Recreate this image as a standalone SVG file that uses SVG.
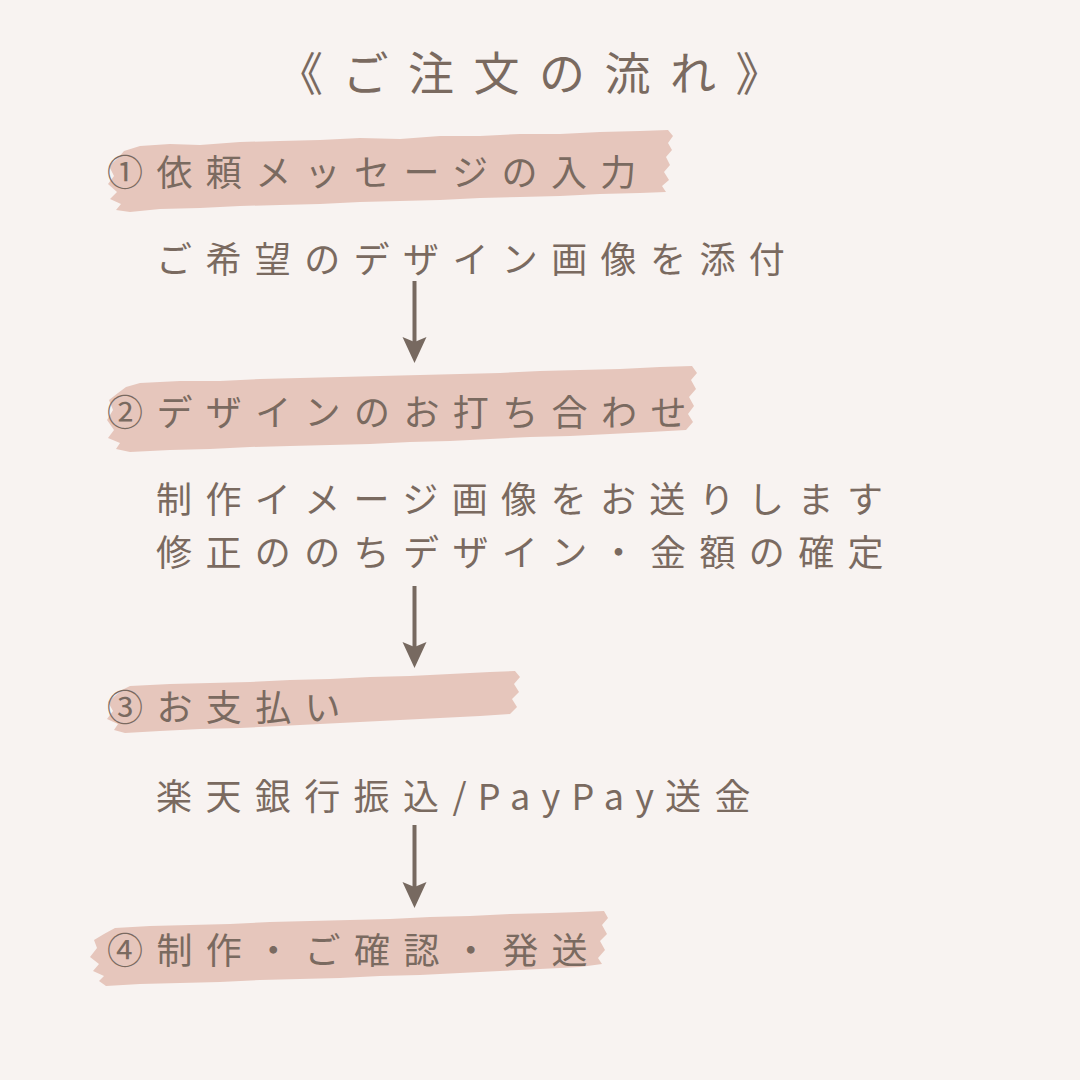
<svg xmlns="http://www.w3.org/2000/svg" width="1080" height="1080" viewBox="0 0 1080 1080">
<style>
.t{font-family:"Noto Sans CJK JP","Noto Sans",sans-serif;fill:#7a6a60;font-size:36px;letter-spacing:13.4px;}
.title{font-size:46px;letter-spacing:19.5px;}
.brush{fill:#e6c6bc;}
.conn{stroke:#776960;stroke-width:4;fill:none;}
</style>
<defs>
<marker id="ah" markerUnits="userSpaceOnUse" viewBox="0 -13 26 26" refX="8" refY="0" markerWidth="26" markerHeight="26" orient="auto">
<path d="M0,-12 L26,0 L0,12 L5,0 Z" fill="#776960"/>
</marker>
</defs>
<rect width="1080" height="1080" fill="#f8f3f1"/>
<g id="title"><text class="t title" x="277" y="90">《ご注文の流れ》</text></g>

<g id="step1">
<path class="brush" d="M140,146 L170,144 L200,145 L240,142 L280,141 L320,140 L360,138 L400,139 L440,136 L480,136 L520,134 L560,134 L600,132 L640,131 L668,130 L673,136 L668,143 L672,150 L666,157 L670,165 L664,172 L669,180 L662,186 L666,192 L640,193 L600,194 L560,196 L520,197 L480,198 L440,200 L400,201 L360,202 L320,204 L280,205 L240,206 L200,208 L160,209 L130,212 L116,210 L121,204 L110,199 L117,192 L108,184 L114,176 L109,166 L118,158 L124,151 Z"/>
<text class="t" x="107" y="186">①依頼メッセージの入力</text>
</g>
<g id="sub1"><text class="t" x="156" y="273">ご希望のデザイン画像を添付</text></g>

<g id="step2">
<path class="brush" d="M140,383 L180,381 L220,381 L260,379 L300,378 L340,377 L380,376 L420,375 L460,374 L500,373 L540,371 L580,370 L620,369 L660,367 L692,366 L697,373 L691,380 L696,389 L689,397 L694,406 L688,414 L693,422 L686,430 L650,432 L610,434 L570,436 L530,437 L490,439 L450,441 L410,442 L370,444 L330,445 L290,446 L250,447 L210,449 L170,450 L130,452 L116,449 L120,443 L108,438 L114,430 L107,420 L113,410 L109,400 L118,393 L126,387 Z"/>
<text class="t" x="107" y="426">②デザインのお打ち合わせ</text>
</g>
<g id="sub2">
<text class="t" x="156" y="513">制作イメージ画像をお送りします</text>
<text class="t" x="156" y="566">修正ののちデザイン・金額の確定</text>
</g>

<g id="step3">
<path class="brush" d="M130,686 L170,684 L210,683 L250,682 L290,680 L330,679 L370,677 L410,676 L450,674 L490,672 L515,671 L520,677 L514,684 L519,692 L512,699 L517,707 L510,714 L480,716 L440,718 L400,720 L360,722 L320,724 L280,726 L240,728 L200,729 L160,731 L125,733 L114,730 L118,724 L107,719 L113,711 L108,702 L116,695 L122,690 Z"/>
<text class="t" x="107" y="721">③お支払い</text>
</g>
<g id="sub3"><text class="t" x="156" y="810">楽天銀行振込<tspan style="letter-spacing:11.2px">/PayPay</tspan>送金</text></g>

<g id="step4">
<path class="brush" d="M115,928 L150,926 L190,925 L230,924 L270,922 L310,921 L350,920 L390,919 L430,917 L470,916 L510,914 L550,913 L580,912 L604,911 L608,918 L602,925 L607,934 L600,941 L605,950 L598,958 L602,964 L580,967 L540,969 L500,971 L460,973 L420,975 L380,976 L340,978 L300,979 L260,980 L220,982 L180,983 L140,984 L106,986 L99,981 L104,976 L93,971 L99,964 L90,957 L97,948 L94,940 L104,934 Z"/>
<text class="t" x="107" y="964">④制作・ご確認・発送</text>
</g>

<g id="connectors">
<line class="conn" x1="414.5" y1="281" x2="414.5" y2="345" marker-end="url(#ah)"/>
<line class="conn" x1="414.5" y1="586" x2="414.5" y2="650" marker-end="url(#ah)"/>
<line class="conn" x1="414.5" y1="825" x2="414.5" y2="890" marker-end="url(#ah)"/>
</g>
</svg>
